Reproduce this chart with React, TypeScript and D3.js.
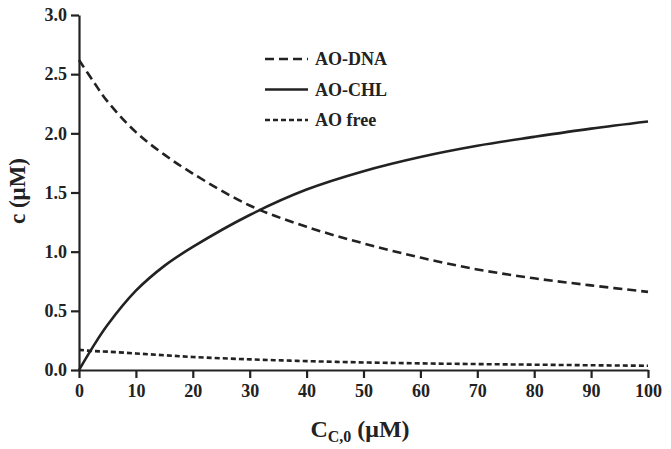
import * as d3 from 'd3';
import { useRef, useEffect } from 'react';

// concentrations
const xValues = [0, 2.5, 5, 10, 15, 20, 30, 40, 50, 60, 70, 80, 90, 100];
const aoDna = [2.62, 2.44, 2.27, 2.01, 1.82, 1.66, 1.39, 1.21, 1.07, 0.95, 0.85, 0.775, 0.715, 0.66];
const aoChl = [0.0, 0.2, 0.38, 0.67, 0.88, 1.04, 1.31, 1.525, 1.68, 1.8, 1.895, 1.97, 2.04, 2.1];
const aoFree = [0.17, 0.16, 0.155, 0.14, 0.125, 0.11, 0.09, 0.075, 0.064, 0.056, 0.05, 0.045, 0.04, 0.036];

const xTicks = [0, 10, 20, 30, 40, 50, 60, 70, 80, 90, 100];
const yTicks = [0, 0.5, 1.0, 1.5, 2.0, 2.5, 3.0];

const seriesList = [
  { name: 'AO-DNA', values: aoDna, dash: '9,5' },
  { name: 'AO-CHL', values: aoChl, dash: null },
  { name: 'AO free', values: aoFree, dash: '5,3' },
];

const width = 671;
const height = 449;
const margin = { top: 15, right: 23, bottom: 79, left: 79 };
const font = '"Liberation Serif", "Times New Roman", serif';

function App() {
  const xAxisRef = useRef<SVGGElement>(null);
  const yAxisRef = useRef<SVGGElement>(null);

  const xScale = d3
    .scaleLinear()
    .domain([0, 100])
    .range([margin.left, width - margin.right]);
  const yScale = d3
    .scaleLinear()
    .domain([0, 3])
    .range([height - margin.bottom, margin.top]);

  const line = d3
    .line<number>()
    .curve(d3.curveCatmullRom.alpha(0.5))
    .x((d, i) => xScale(xValues[i]))
    .y((d) => yScale(d));

  useEffect(() => {
    const xAxis = d3
      .axisBottom(xScale)
      .tickValues(xTicks)
      .tickFormat(d3.format('d'))
      .tickSize(8)
      .tickSizeOuter(0)
      .tickPadding(6);
    const yAxis = d3
      .axisLeft(yScale)
      .tickValues(yTicks)
      .tickFormat(d3.format('.1f'))
      .tickSize(8)
      .tickSizeOuter(0)
      .tickPadding(4);

    const gx = d3.select(xAxisRef.current!).call(xAxis);
    const gy = d3.select(yAxisRef.current!).call(yAxis);
    [gx, gy].forEach((g) => {
      g.select('.domain').attr('stroke', '#222').attr('stroke-width', 2.2);
      g.selectAll('.tick line').attr('stroke', '#222').attr('stroke-width', 2.2);
      g.selectAll('.tick text')
        .attr('fill', '#222')
        .attr('font-family', font)
        .attr('font-weight', 'bold')
        .attr('font-size', 18);
    });
  }, []);

  return (
    <svg
      width={width}
      height={height}
      style={{ position: 'absolute', left: 0, top: 0, background: '#fff' }}
    >
      <g ref={xAxisRef} transform={`translate(0, ${height - margin.bottom})`} />
      <g ref={yAxisRef} transform={`translate(${margin.left}, 0)`} />

      {seriesList.map((s) => (
        <path
          key={s.name}
          d={line(s.values) ?? ''}
          fill='none'
          stroke='#222'
          strokeWidth={2.6}
          strokeDasharray={s.dash ?? undefined}
        />
      ))}

      {/* legend */}
      {seriesList.map((s, i) => (
        <g key={s.name} transform={`translate(265, ${59 + i * 30.5})`}>
          <line
            x1={0}
            x2={43}
            y1={0}
            y2={0}
            stroke='#222'
            strokeWidth={2.6}
            strokeDasharray={s.dash ?? undefined}
          />
          <text
            x={50}
            y={6}
            fontFamily={font}
            fontWeight='bold'
            fontSize={18}
            fill='#222'
          >
            {s.name}
          </text>
        </g>
      ))}

      {/* axis titles */}
      <text
        transform={`translate(25, 191) rotate(-90)`}
        textAnchor='middle'
        fontFamily={font}
        fontWeight='bold'
        fontSize={23}
        fill='#222'
      >
        c (μM)
      </text>
      <text
        x={360}
        y={437}
        textAnchor='middle'
        fontFamily={font}
        fontWeight='bold'
        fontSize={24}
        fill='#222'
      >
        C
        <tspan fontSize={16} dy={5}>C,0</tspan>
        <tspan dy={-5}> (μM)</tspan>
      </text>
    </svg>
  );
}

export default App;
